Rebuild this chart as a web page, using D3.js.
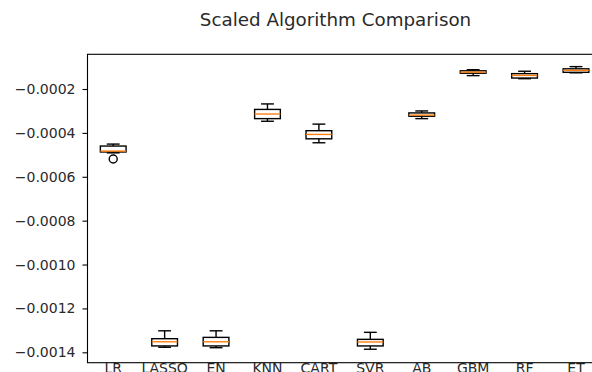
<!DOCTYPE html>
<html>
<head>
<meta charset="utf-8">
<script src="https://cdn.jsdelivr.net/npm/d3@7"></script>
<style>
  html, body { margin: 0; padding: 0; background: #fff; }
  svg { display: block; font-family: "DejaVu Sans", sans-serif; }
</style>
</head>
<body>
<svg id="chart"></svg>
<script>
'use strict';

const WIDTH = 592;
const HEIGHT = 372;

// plot area (the right spine falls outside the picture, like the reference)
const LEFT = 87.5;
const RIGHT = 601.7;
const TOP = 54.3;
const BOTTOM = 362.7;

const names = ['LR', 'LASSO', 'EN', 'KNN', 'CART', 'SVR', 'AB', 'GBM', 'RF', 'ET'];
const whiskerLow = [-0.000491, -0.001377, -0.001379, -0.000347, -0.000445, -0.001386, -0.000335, -0.000139, -0.000153, -0.000126];
const q1 = [-0.000487, -0.001371, -0.001371, -0.000335, -0.000427, -0.001371, -0.000324, -0.000128, -0.000150, -0.000124];
const median = [-0.000483, -0.001352, -0.001352, -0.000314, -0.000407, -0.001353, -0.000319, -0.000123, -0.000138, -0.000115];
const q3 = [-0.000460, -0.001338, -0.001332, -0.000293, -0.000390, -0.001341, -0.000309, -0.000117, -0.000130, -0.000108];
const whiskerHigh = [-0.000451, -0.001302, -0.001302, -0.000268, -0.000360, -0.001309, -0.000300, -0.000112, -0.000119, -0.000098];
const fliers = [{ name: 'LR', value: -0.000519 }];

const yTicks = [-0.0014, -0.0012, -0.0010, -0.0008, -0.0006, -0.0004, -0.0002];
const title = 'Scaled Algorithm Comparison';

const boxes = names.map((name, i) => ({
  name,
  lo: whiskerLow[i], q1: q1[i], med: median[i], q3: q3[i], hi: whiskerHigh[i],
}));

const svg = d3.select('#chart')
  .attr('width', WIDTH)
  .attr('height', HEIGHT)
  .attr('viewBox', `0 0 ${WIDTH} ${HEIGHT}`);

const x = d3.scaleBand().domain(names).range([LEFT, RIGHT]).paddingInner(0).paddingOuter(0);
const y = d3.scaleLinear().domain([-0.0014474, -0.0000418]).range([BOTTOM, TOP]);

const bw = x.bandwidth() * 0.5;
const cx = d => x(d.name) + x.bandwidth() / 2;

const fmt = v => d3.format('.4f')(v).replace('-', '\u2212');

// axes
const yAxis = d3.axisLeft(y).tickValues(yTicks).tickSize(5).tickPadding(7).tickFormat(fmt);
const yG = svg.append('g').attr('transform', `translate(${LEFT},0)`).call(yAxis);
yG.select('.domain').remove();
yG.selectAll('.tick line').attr('stroke', '#000').attr('stroke-width', 1.1);
yG.selectAll('.tick text').attr('font-size', 14).attr('fill', '#2a2a2a')
  .attr('font-family', '"DejaVu Sans", sans-serif');

const xAxis = d3.axisBottom(x).tickSize(0).tickPadding(0);
const xG = svg.append('g').attr('transform', `translate(0,${BOTTOM})`).call(xAxis);
xG.select('.domain').remove();
xG.selectAll('.tick text').attr('font-size', 14).attr('fill', '#2a2a2a')
  .attr('font-family', '"DejaVu Sans", sans-serif');

// spines
const spines = svg.append('g').attr('stroke', '#000').attr('stroke-width', 1.1).attr('fill', 'none');
spines.append('rect')
  .attr('x', LEFT).attr('y', TOP)
  .attr('width', RIGHT - LEFT).attr('height', BOTTOM - TOP);

// boxes
const g = svg.append('g').selectAll('g.box').data(boxes).join('g').attr('class', 'box');

g.append('line')
  .attr('x1', cx).attr('x2', cx)
  .attr('y1', d => y(d.q3)).attr('y2', d => y(d.hi))
  .attr('stroke', '#000').attr('stroke-width', 1.4);
g.append('line')
  .attr('x1', cx).attr('x2', cx)
  .attr('y1', d => y(d.q1)).attr('y2', d => y(d.lo))
  .attr('stroke', '#000').attr('stroke-width', 1.4);
g.append('line')
  .attr('x1', d => cx(d) - bw / 4).attr('x2', d => cx(d) + bw / 4)
  .attr('y1', d => y(d.hi)).attr('y2', d => y(d.hi))
  .attr('stroke', '#000').attr('stroke-width', 1.4);
g.append('line')
  .attr('x1', d => cx(d) - bw / 4).attr('x2', d => cx(d) + bw / 4)
  .attr('y1', d => y(d.lo)).attr('y2', d => y(d.lo))
  .attr('stroke', '#000').attr('stroke-width', 1.4);
g.append('rect')
  .attr('x', d => cx(d) - bw / 2).attr('width', bw)
  .attr('y', d => y(d.q3)).attr('height', d => y(d.q1) - y(d.q3))
  .attr('fill', 'none').attr('stroke', '#000').attr('stroke-width', 1.4);
g.append('line')
  .attr('x1', d => cx(d) - bw / 2).attr('x2', d => cx(d) + bw / 2)
  .attr('y1', d => y(d.med)).attr('y2', d => y(d.med))
  .attr('stroke', '#ff7f0e').attr('stroke-width', 1.4);

svg.append('g').selectAll('circle').data(fliers).join('circle')
  .attr('cx', d => x(d.name) + x.bandwidth() / 2)
  .attr('cy', d => y(d.value))
  .attr('r', 4)
  .attr('fill', 'none').attr('stroke', '#000').attr('stroke-width', 1.4);

svg.append('text')
  .attr('x', 335.5).attr('y', 25.5)
  .attr('text-anchor', 'middle')
  .attr('font-size', 18.3).attr('fill', '#2a2a2a')
  .text(title);
</script>
</body>
</html>
